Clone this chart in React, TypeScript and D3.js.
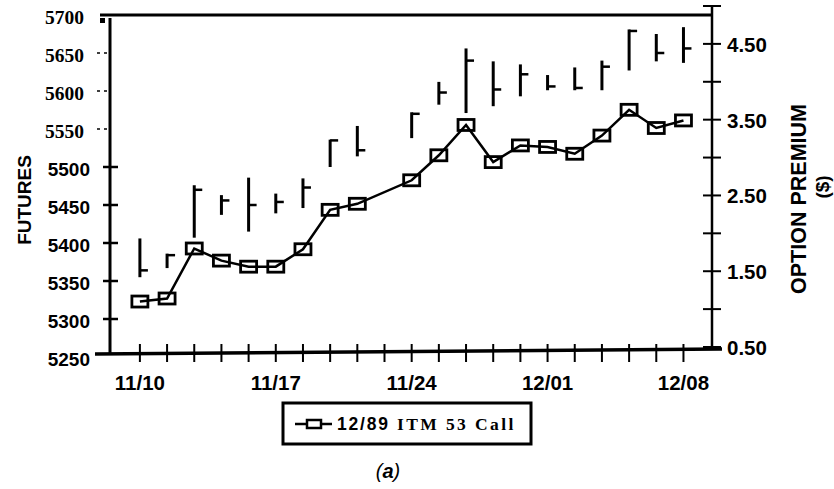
import React from "react";
import * as d3 from "d3";

const dates = ["11/10","11/13","11/14","11/15","11/16","11/17","11/20","11/21","11/22","11/23","11/24","11/27","11/28","11/29","11/30","12/01","12/04","12/05","12/06","12/07","12/08"];
const dateLabels = ["11/10","11/17","11/24","12/01","12/08"];
const futuresHigh = [5406, 5386, 5476, 5463, 5486, 5465, 5485, 5536, 5554, null, 5572, 5612, 5656, 5639, 5635, 5621, 5631, 5640, 5681, 5675, 5684];
const futuresLow = [5355, 5367, 5407, 5437, 5415, 5439, 5446, 5500, 5514, null, 5538, 5582, 5571, 5580, 5593, 5601, 5601, 5601, 5627, 5639, 5637];
const futuresClose = [5364, 5384, 5470, 5456, 5450, 5454, 5473, 5535, 5522, null, 5570, 5598, 5640, 5602, 5622, 5606, 5604, 5632, 5679, 5650, 5656];
const premium = [1.10, 1.14, 1.80, 1.64, 1.56, 1.56, 1.79, 2.31, 2.39, null, 2.70, 3.03, 3.43, 2.94, 3.16, 3.14, 3.05, 3.29, 3.63, 3.39, 3.49];
const leftTicks = [5250, 5300, 5350, 5400, 5450, 5500, 5550, 5600, 5650, 5700];
const rightTickLabels = [0.5, 1.5, 2.5, 3.5, 4.5];
const rightTicks = [0.5, 1.0, 1.5, 2.0, 2.5, 3.0, 3.5, 4.0, 4.5, 5.0];
const legendLabelSans = "12/89";
const legendLabelSerif = "ITM 53 Call";

const W = 834, H = 489;
const LEFT = 110, RIGHT = 712;

export default function App() {
  const x = d3.scaleLinear().domain([-1.1, 21.05]).range([LEFT, RIGHT]);
  const yL = d3.scaleLinear().domain([5250, 5700]).range([357, 15]);
  const yR = d3.scaleLinear().domain([0.5, 5.0]).range([347, 6]);

  const pts = premium
    .map((v, i) => ({ i, v }))
    .filter((d) => d.v !== null) as { i: number; v: number }[];
  const line = d3
    .line<{ i: number; v: number }>()
    .x((d) => x(d.i))
    .y((d) => yR(d.v));

  const sans = "'Liberation Sans', Arial, Helvetica, sans-serif";
  const serif = "'Liberation Serif', 'Times New Roman', serif";

  return (
    <svg width={W} height={H} style={{ position: "absolute", left: 0, top: 0, background: "#fff" }}>
      <rect x={0} y={0} width={W} height={H} fill="#fff" />
      {/* frame */}
      <line x1={100} y1={15} x2={RIGHT} y2={15} stroke="#000" strokeWidth={3} />
      <rect x={100} y={18} width={5} height={5} fill="#000" />
      <line x1={LEFT} y1={18} x2={LEFT} y2={355} stroke="#000" strokeWidth={3} />
      <line x1={RIGHT} y1={5} x2={RIGHT} y2={350} stroke="#000" strokeWidth={2.5} />
      <line x1={95} y1={354} x2={722} y2={349} stroke="#000" strokeWidth={3.5} />

      {/* left ticks */}
      {leftTicks.map((t) => {
        const y = yL(t);
        const upper = t >= 5550;
        return (
          <g key={"lt" + t}>
            {t > 5250 && t < 5700 && (upper ? (
              <line x1={97} x2={LEFT} y1={y} y2={y} stroke="#000" strokeWidth={1.5} strokeDasharray="3,4" />
            ) : (
              <line x1={103} x2={118} y1={y} y2={y} stroke="#000" strokeWidth={2.5} />
            ))}
            <text
              x={upper ? 84 : 90}
              y={y + 8.5}
              textAnchor="end"
              fontFamily={upper ? serif : sans}
              fontWeight="bold"
              fontSize={upper ? 19.5 : 19}
              fill="#000"
            >
              {t}
            </text>
          </g>
        );
      })}
      <text
        transform="translate(31,200) rotate(-90)"
        textAnchor="middle"
        fontFamily={sans}
        fontWeight="bold"
        fontSize={19}
      >
        FUTURES
      </text>

      {/* right ticks */}
      {rightTicks.map((t) => (
        <line key={"rt" + t} x1={703} x2={721} y1={yR(t)} y2={yR(t)} stroke="#000" strokeWidth={2} />
      ))}
      {rightTickLabels.map((t) => (
        <text key={"rl" + t} x={727} y={yR(t) + 8} fontFamily={sans} fontWeight="bold" fontSize={20.5} fill="#000">
          {t.toFixed(2)}
        </text>
      ))}
      <text transform="translate(806,199) rotate(-90)" textAnchor="middle" fontFamily={sans} fontWeight="bold" fontSize={21.5}>
        OPTION PREMIUM
      </text>
      <text transform="translate(829,187) rotate(-90)" textAnchor="middle" fontFamily={sans} fontWeight="bold" fontSize={19}>
        ($)
      </text>

      {/* x ticks */}
      {dates.map((d, i) => (
        <line key={"xt" + i} x1={x(i)} x2={x(i)} y1={344} y2={362} stroke="#000" strokeWidth={2} />
      ))}
      {dates.map((d, i) =>
        dateLabels.includes(d) ? (
          <text key={"xl" + i} x={x(i)} y={390} textAnchor="middle" fontFamily={sans} fontWeight="bold" fontSize={20.5}>
            {d}
          </text>
        ) : null
      )}

      {/* futures bars */}
      {dates.map((d, i) => {
        const h = futuresHigh[i], l = futuresLow[i], c = futuresClose[i];
        if (h === null || l === null || c === null) return null;
        const xx = x(i);
        return (
          <g key={"b" + i} stroke="#000" strokeWidth={3}>
            <line x1={xx} x2={xx} y1={yL(h)} y2={yL(l)} />
            <line x1={xx} x2={xx + 8} y1={yL(c)} y2={yL(c)} strokeWidth={2.5} />
          </g>
        );
      })}

      {/* premium line */}
      <path d={line(pts) || ""} fill="none" stroke="#000" strokeWidth={2.5} />
      {pts.map((p) => (
        <rect key={"s" + p.i} x={x(p.i) - 8} y={yR(p.v) - 5.5} width={16} height={11} fill="none" stroke="#000" strokeWidth={2.8} />
      ))}

      {/* legend */}
      <rect x={283} y={403} width={248} height={41} fill="none" stroke="#000" strokeWidth={3} />
      <line x1={295} x2={332} y1={424} y2={424} stroke="#000" strokeWidth={2.5} />
      <rect x={307} y={420} width={14} height={8} fill="#fff" stroke="#000" strokeWidth={2.5} />
      <text x={337} y={430} fontWeight="bold" fontSize={17.5}>
        <tspan fontFamily={sans} letterSpacing={1.8}>{legendLabelSans}</tspan>
        <tspan fontFamily={serif} x={397} letterSpacing={2.4}>{legendLabelSerif}</tspan>
      </text>

      <text x={388} y={478} textAnchor="middle" fontFamily={sans} fontStyle="italic" fontSize={20}>
        (<tspan fontWeight="bold">a</tspan>)
      </text>
    </svg>
  );
}
